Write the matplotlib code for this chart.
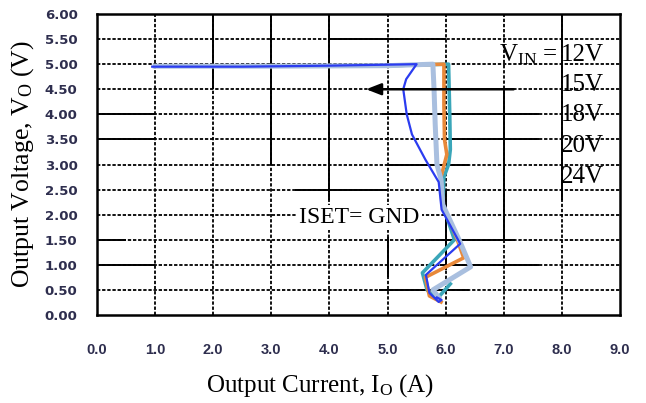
import matplotlib
matplotlib.use("Agg")
import matplotlib.pyplot as plt

plt.rcParams['mathtext.fontset'] = 'custom'
plt.rcParams['mathtext.rm'] = 'Liberation Serif'
plt.rcParams['mathtext.it'] = 'Liberation Serif:italic'
plt.rcParams['lines.scale_dashes'] = False

# ---------------- data ----------------
x_ticks = [0, 1, 2, 3, 4, 5, 6, 7, 8, 9]
x_tick_labels = ["0.0", "1.0", "2.0", "3.0", "4.0", "5.0", "6.0", "7.0", "8.0", "9.0"]
y_ticks = [0, 0.5, 1, 1.5, 2, 2.5, 3, 3.5, 4, 4.5, 5, 5.5, 6]
y_tick_labels = ["0.00", "0.50", "1.00", "1.50", "2.00", "2.50", "3.00",
                 "3.50", "4.00", "4.50", "5.00", "5.50", "6.00"]

vin_labels = ["12V", "15V", "18V", "20V", "24V"]

# light steel blue curve
lb_i = [1.0, 3.0, 5.0, 5.78, 5.80, 5.82, 5.85, 5.92, 5.95, 6.25, 6.43, 5.78, 5.88]
lb_v = [4.96, 4.96, 4.97, 5.0, 4.5, 3.8, 3.0, 2.7, 2.2, 1.45, 0.96, 0.5, 0.35]
# teal curve
te_i = [1.0, 3.0, 5.0, 6.05, 6.07, 6.08, 6.05, 5.97, 5.95, 6.15, 5.60, 5.68, 5.85, 6.08]
te_v = [4.96, 4.96, 4.97, 5.0, 4.0, 3.3, 3.0, 2.75, 2.2, 1.5, 0.84, 0.5, 0.32, 0.62]
# orange curve
or_i = [1.0, 3.0, 5.0, 5.97, 5.97, 5.98, 6.02, 5.92, 5.95, 6.20, 6.31, 5.65, 5.72, 5.92]
or_v = [4.96, 4.96, 4.97, 5.0, 4.2, 3.5, 3.2, 2.75, 2.2, 1.5, 1.14, 0.75, 0.38, 0.26]
# blue curve
bl_i = [0.95, 2.5, 4.0, 5.50, 5.32, 5.27, 5.33, 5.42, 5.65, 5.88, 5.93, 6.25, 5.66, 5.72, 5.88, 5.93, 5.85]
bl_v = [4.95, 4.95, 4.97, 5.0, 4.7, 4.5, 4.0, 3.6, 3.1, 2.65, 2.1, 1.42, 0.80, 0.44, 0.26, 0.30, 0.35]

# ---------------- figure ----------------
fig = plt.figure(figsize=(6.46, 4.03), dpi=100)
ax = fig.add_axes([97/646, 88/403, 523/646, 301/403])
ax.set_xlim(0, 9)
ax.set_ylim(0, 6)

# dashed grid
dash = (2.4, 1.3)
for xv in x_ticks[1:-1]:
    ax.axvline(xv, color='black', lw=1.3, dashes=dash, zorder=1)
for yv in y_ticks[1:-1]:
    ax.axhline(yv, color='black', lw=1.3, dashes=dash, zorder=1)

# solid grid segments (decorative overlay of the original)
v_solid = [(2, 4.5, 6.0), (3, 3.0, 6.0), (4, 2.3, 6.0), (5, 0.76, 1.56),
           (6, 0.9, 2.5), (7, 1.5, 4.5), (8, 2.3, 6.0)]
h_solid = [(5.5, 4.0, 6.0), (4.0, 0.0, 1.0), (4.0, 4.9, 7.6), (3.5, 0.0, 1.0),
           (3.5, 6.0, 7.6), (3.0, 5.0, 6.4), (2.5, 3.4, 5.0), (1.5, 0.0, 0.5),
           (1.5, 5.54, 7.2), (1.0, 0.0, 1.0), (1.0, 5.9, 7.6), (0.5, 4.85, 6.4)]
for xv, y0, y1 in v_solid:
    ax.plot([xv, xv], [y0, y1], color='black', lw=1.4, solid_capstyle='butt', zorder=1.1)
for yv, x0, x1 in h_solid:
    ax.plot([x0, x1], [yv, yv], color='black', lw=1.4, solid_capstyle='butt', zorder=1.1)

# curves
ax.plot(te_i, te_v, color='#3aa6b9', lw=2.6, zorder=3, solid_joinstyle='round')
ax.plot(or_i, or_v, color='#e8893a', lw=2.6, zorder=4, solid_joinstyle='round')
ax.plot(lb_i, lb_v, color='#a9bfdf', lw=3.6, zorder=5, solid_joinstyle='round')
ax.plot(bl_i, bl_v, color='#2b3cf0', lw=1.6, zorder=6, solid_joinstyle='round')

# arrow
ax.annotate('', xy=(4.63, 4.5), xytext=(7.17, 4.5),
            arrowprops=dict(arrowstyle='-|>,head_length=0.9,head_width=0.35',
                            color='black', lw=1.8, shrinkA=0, shrinkB=0), zorder=7)

# annotations
serif = 'Liberation Serif'
ax.text(7.93, 5.06, r"V$_{\mathrm{IN}}$ =", ha='right', va='baseline',
        fontsize=18, family=serif, zorder=8)
baselines = [5.06, 4.46, 3.86, 3.24, 2.64]
for lab, yb in zip(vin_labels, baselines):
    ax.text(7.99, yb, lab, ha='left', va='baseline', fontsize=18, family=serif, zorder=8)

ax.text(3.48, 1.84, "ISET= GND", ha='left', va='baseline', fontsize=17, family=serif,
        zorder=8, bbox=dict(facecolor='white', edgecolor='none', pad=1.5))

# axes styling
for s in ax.spines.values():
    s.set_linewidth(1.8)
    s.set_color('black')
    s.set_zorder(9)

ax.set_xticks(x_ticks)
ax.set_xticklabels(x_tick_labels)
ax.set_yticks(y_ticks)
ax.set_yticklabels(y_tick_labels)
ax.tick_params(axis='both', length=0)
ax.tick_params(axis='x', pad=20)
ax.tick_params(axis='y', pad=14)
tick_color = '#2e2e4e'
for lab in ax.get_xticklabels():
    lab.set_fontfamily('Liberation Sans')
    lab.set_fontweight('bold')
    lab.set_fontsize(10.5)
    lab.set_color(tick_color)
for lab in ax.get_yticklabels():
    lab.set_fontfamily('DejaVu Sans')
    lab.set_fontweight('bold')
    lab.set_fontsize(9.5)
    lab.set_color(tick_color)

ax.set_xlabel(r"Output Current, I$_{\mathrm{O}}$ (A)", fontsize=18, family=serif)
ax.xaxis.set_label_coords((320 - 97) / 523, -0.19)
ax.set_ylabel(r"Output Voltage, V$_{\mathrm{O}}$ (V)", fontsize=18.5, family=serif, labelpad=6)

fig.savefig("out.png", dpi=100, facecolor='white')
